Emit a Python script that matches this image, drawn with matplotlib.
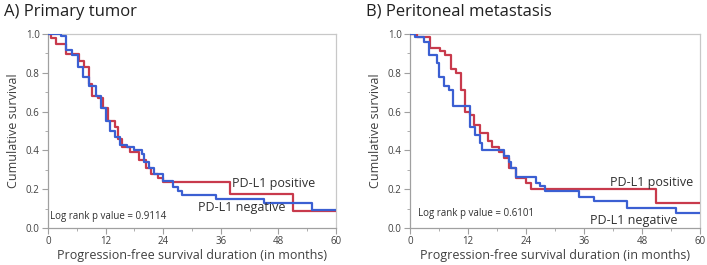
import matplotlib
matplotlib.use("Agg")
import matplotlib.pyplot as plt
from matplotlib.ticker import MultipleLocator

plt.rcParams['font.family'] = ['Open Sans', 'DejaVu Sans']

# Panel A: Primary tumor
a_pos_t = [0, 0.7, 1.7, 3.8, 6.5, 7.6, 8.5, 9.2, 10.5, 11.5, 12.5, 14.0, 14.5, 15.5, 17.0, 19.0, 20.5, 21.5, 23.0, 24.0, 38.0, 51.0, 60]
a_pos_s = [1.0, 0.98, 0.95, 0.895, 0.86, 0.83, 0.74, 0.68, 0.67, 0.62, 0.55, 0.52, 0.46, 0.42, 0.39, 0.35, 0.31, 0.28, 0.26, 0.235, 0.175, 0.09, 0.09]
a_neg_t = [0, 2.8, 3.8, 5.0, 6.2, 7.3, 8.5, 10.0, 11.0, 12.0, 13.0, 14.0, 15.0, 16.5, 18.0, 19.5, 20.0, 21.0, 22.0, 24.0, 26.0, 27.0, 28.0, 35.0, 45.0, 55.0, 60]
a_neg_s = [1.0, 0.99, 0.92, 0.89, 0.83, 0.78, 0.73, 0.68, 0.62, 0.55, 0.50, 0.47, 0.43, 0.42, 0.40, 0.38, 0.34, 0.31, 0.28, 0.24, 0.21, 0.19, 0.17, 0.15, 0.13, 0.095, 0.095]

# Panel B: Peritoneal metastasis
b_pos_t = [0, 1.5, 4.1, 6.2, 7.3, 8.5, 9.5, 10.5, 11.3, 12.5, 13.3, 14.5, 16.2, 17.0, 18.5, 19.5, 20.5, 22.0, 24.0, 25.0, 51.0, 60]
b_pos_s = [1.0, 0.985, 0.93, 0.91, 0.89, 0.82, 0.80, 0.71, 0.60, 0.58, 0.53, 0.49, 0.45, 0.42, 0.39, 0.36, 0.31, 0.26, 0.23, 0.20, 0.13, 0.13]
b_neg_t = [0, 1.0, 3.0, 4.0, 5.5, 6.0, 7.0, 8.0, 9.0, 12.5, 13.5, 14.5, 15.0, 19.5, 20.5, 21.0, 22.0, 26.0, 27.0, 28.0, 35.0, 38.0, 45.0, 55.0, 60]
b_neg_s = [1.0, 0.985, 0.96, 0.89, 0.85, 0.78, 0.73, 0.71, 0.63, 0.52, 0.48, 0.44, 0.40, 0.37, 0.34, 0.31, 0.265, 0.23, 0.215, 0.19, 0.16, 0.14, 0.105, 0.075, 0.075]

titles = ["A) Primary tumor", "B) Peritoneal metastasis"]
pvals = ["Log rank p value = 0.9114", "Log rank p value = 0.6101"]
x_ticks = [0, 12, 24, 36, 48, 60]
y_ticks = [0.0, 0.2, 0.4, 0.6, 0.8, 1.0]

RED = "#c83a4c"
BLUE = "#3b5fd2"
GRAY = "#a0a0a0"

fig = plt.figure(figsize=(7.07, 2.65), dpi=100)
axA = fig.add_axes([0.0679, 0.1396, 0.4073, 0.732])
axB = fig.add_axes([0.5799, 0.1396, 0.4100, 0.732])

panels = [
    (axA, a_pos_t, a_pos_s, a_neg_t, a_neg_s, (38.3, 0.232), (31.3, 0.108), (0.4, 0.057), 0.006),
    (axB, b_pos_t, b_pos_s, b_neg_t, b_neg_s, (41.4, 0.235), (37.2, 0.04), (1.7, 0.076), 0.5177),
]

for i, (ax, pt, ps, nt, ns, ppos, npos, lpos, tx) in enumerate(panels):
    ax.step(pt, ps, where='post', color=RED, lw=1.6, zorder=3)
    ax.step(nt, ns, where='post', color=BLUE, lw=1.6, zorder=4)
    ax.set_xlim(0, 60)
    ax.set_ylim(0, 1.0)
    ax.set_xticks(x_ticks)
    ax.set_yticks(y_ticks)
    ax.set_yticklabels([f"{v:.1f}" for v in y_ticks])
    ax.xaxis.set_minor_locator(MultipleLocator(6))
    ax.yaxis.set_minor_locator(MultipleLocator(0.1))
    ax.tick_params(axis='both', which='major', labelsize=7, colors=GRAY, labelcolor="#404040", length=4, width=0.8, pad=2)
    ax.tick_params(axis='both', which='minor', colors=GRAY, length=2.5, width=0.6)
    for sp in ax.spines.values():
        sp.set_color("#c8c8c8")
        sp.set_linewidth(0.9)
    ax.spines['left'].set_color(GRAY)
    ax.spines['bottom'].set_color(GRAY)
    ax.set_xlabel("Progression-free survival duration (in months)", fontsize=9, color="#404040", labelpad=1)
    ax.set_ylabel("Cumulative survival", fontsize=9, color="#404040", labelpad=4)
    ax.text(ppos[0], ppos[1], "PD-L1 positive", fontsize=9, color="#303030", va='center', ha='left', zorder=5)
    ax.text(npos[0], npos[1], "PD-L1 negative", fontsize=9, color="#303030", va='center', ha='left', zorder=5)
    ax.text(lpos[0], lpos[1], pvals[i], fontsize=7, color="#303030", va='center', ha='left', zorder=5)
    fig.text(tx, 0.955, titles[i], fontsize=12, color="#202020", va='center', ha='left')

fig.savefig("out.png", dpi=100)
